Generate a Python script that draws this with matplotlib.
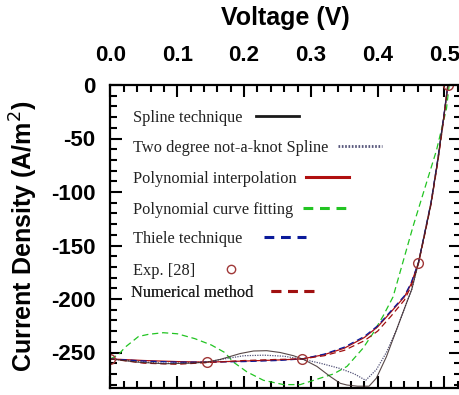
import matplotlib
matplotlib.use("Agg")
import matplotlib.pyplot as plt
from matplotlib.lines import Line2D
from matplotlib.ticker import MultipleLocator

# ---------------- data ----------------
exp_v = [0.0, 0.144, 0.287, 0.461, 0.505]
exp_j = [-256, -259, -256, -166, 0]

spline_v = [0, 0.04, 0.08, 0.12, 0.144, 0.164, 0.194, 0.214, 0.234, 0.254, 0.274, 0.289,
            0.309, 0.329, 0.344, 0.354, 0.37, 0.387, 0.398, 0.413, 0.428, 0.443, 0.451,
            0.461, 0.47, 0.48, 0.49, 0.50, 0.505]
spline_j = [-256, -259, -260.5, -260, -259, -256.5, -251, -248.6, -248.3, -250, -253, -256.5,
            -263, -272.5, -278.8, -280.4, -281.5, -281.5, -274, -254, -229, -204, -191,
            -166, -140, -110, -70, -25, 0]

twodeg_v = [0, 0.04, 0.08, 0.12, 0.144, 0.17, 0.20, 0.23, 0.26, 0.289, 0.314, 0.344, 0.365,
            0.382, 0.398, 0.413, 0.428, 0.443, 0.451, 0.461, 0.47, 0.48, 0.49, 0.50, 0.505]
twodeg_j = [-256, -258.5, -260, -259.5, -259, -256, -253, -252.5, -253.5, -256.5, -260, -265,
            -270, -276, -266, -250, -229, -204, -191, -166, -140, -110, -70, -25, 0]

polyint_v = [0, 0.05, 0.10, 0.144, 0.20, 0.25, 0.287, 0.32, 0.35, 0.38, 0.40, 0.42, 0.44,
             0.45, 0.461, 0.47, 0.48, 0.49, 0.50, 0.505]
polyint_j = [-256, -257.5, -258.5, -259, -258, -257, -256, -252, -246, -236, -226, -212, -198,
             -186, -166, -140, -110, -70, -25, 0]

polyfit_v = [0, 0.012, 0.022, 0.042, 0.057, 0.079, 0.10, 0.126, 0.151, 0.171, 0.184, 0.204,
             0.229, 0.259, 0.284, 0.314, 0.334, 0.354, 0.378, 0.393, 0.408, 0.423, 0.453,
             0.488, 0.503, 0.507]
polyfit_j = [-256, -252, -245, -235, -233, -231.5, -232.5, -237, -243, -250, -259, -268,
             -276, -280, -280, -274, -270, -263, -246, -232, -216, -198, -132,
             -61, -22, 0]

thiele_v = [0, 0.05, 0.10, 0.144, 0.20, 0.25, 0.287, 0.32, 0.35, 0.38, 0.40, 0.42, 0.44,
            0.45, 0.461, 0.47, 0.48, 0.49, 0.50, 0.505]
thiele_j = [-256, -258, -259, -259, -258.5, -257.5, -256, -251.5, -245, -235, -225, -211, -197,
            -185, -166, -139, -109, -69, -24, 0]

numer_v = [0, 0.05, 0.10, 0.144, 0.20, 0.25, 0.287, 0.32, 0.35, 0.38, 0.40, 0.42, 0.44,
           0.45, 0.461, 0.47, 0.48, 0.49, 0.50, 0.505]
numer_j = [-256, -260, -261, -259.5, -257.5, -256.5, -256, -253, -248, -239, -230, -216, -201,
           -188, -167, -141, -111, -72, -27, 0]

labels = ["Spline technique", "Two degree not-a-knot Spline", "Polynomial interpolation",
          "Polynomial curve fitting", "Thiele technique", "Exp. [28]", "Numerical method"]
x_ticks = [0.0, 0.1, 0.2, 0.3, 0.4, 0.5]
y_ticks = [0, -50, -100, -150, -200, -250]

# ---------------- figure ----------------
plt.rcParams['axes.unicode_minus'] = False
W, H = 460, 395
fig = plt.figure(figsize=(W / 100, H / 100), dpi=100)
L, R, T, B = 110.5, 461.0, 85.0, 388.0
ax = fig.add_axes([L / W, 1 - B / H, (R - L) / W, (B - T) / H])

c_spline = "#3a2828"
c_two = "#55557a"
c_pint = "#b01010"
c_pfit = "#22c422"
c_thiele = "#0a1a9a"
c_exp = "#a03838"
c_num = "#a01010"

ax.plot(polyfit_v, polyfit_j, color=c_pfit, lw=0.9, ls=(0, (5, 3)))
ax.plot(twodeg_v, twodeg_j, color=c_two, lw=0.9, ls=(0, (1, 1)))
ax.plot(polyint_v, polyint_j, color=c_pint, lw=0.9)
ax.plot(thiele_v, thiele_j, color=c_thiele, lw=0.9, ls=(0, (5, 3)))
ax.plot(numer_v, numer_j, color=c_num, lw=0.9, ls=(0, (5, 3)))
ax.plot(spline_v, spline_j, color=c_spline, lw=0.8, alpha=0.85)
ax.plot(exp_v, exp_j, ls='none', marker='o', ms=7, mfc='none', mec=c_exp, mew=1.0)

ax.set_xlim(0, (R - L) / 668.0)
ax.set_ylim(-(B - T) / 1.07, 0)

ax.xaxis.tick_top()
ax.xaxis.set_label_position('top')
ax.set_xticks(x_ticks)
ax.set_xticklabels([f"{v:.1f}" for v in x_ticks])
ax.set_yticks(y_ticks)
ax.set_yticklabels([str(v) for v in y_ticks])
ax.xaxis.set_minor_locator(MultipleLocator(0.02))
ax.yaxis.set_minor_locator(MultipleLocator(10))
ax.tick_params(which='both', direction='in', top=True, bottom=True, left=True, right=True,
               labeltop=True, labelbottom=False, labelleft=True, labelright=False, width=1.5,
               color='black')
ax.tick_params(which='major', length=8.5)
ax.tick_params(which='minor', length=5)
ax.tick_params(axis='x', which='major', pad=14)
ax.tick_params(axis='y', which='major', pad=11)
for lab in ax.get_xticklabels() + ax.get_yticklabels():
    lab.set_fontfamily('Liberation Sans')
    lab.set_fontweight('bold')
    lab.set_fontsize(16)
for sp in ax.spines.values():
    sp.set_linewidth(1.6)

ax.set_xlabel("Voltage (V)", fontfamily='Liberation Sans', fontweight='bold', fontsize=18,
              labelpad=14)
ax.set_ylabel("Current Density (A/m$^2$)", fontfamily='Liberation Sans', fontweight='bold',
              fontsize=18, labelpad=8)

# ---------------- legend: one row per entry, handle right after the text ----------------
handles = [
    Line2D([], [], color="#1a1a1a", lw=2.0),
    Line2D([], [], color=c_two, lw=2.0, ls=(0, (0.6, 0.6))),
    Line2D([], [], color=c_pint, lw=2.2),
    Line2D([], [], color=c_pfit, lw=2.2, ls=(0, (3.2, 2.2))),
    Line2D([], [], color=c_thiele, lw=2.2, ls=(0, (3.2, 2.2))),
    Line2D([], [], ls='none', marker='o', ms=6, mfc='none', mec=c_exp, mew=1.0),
    Line2D([], [], color=c_num, lw=2.2, ls=(0, (3.2, 2.2))),
]
row_y = [118, 148, 179, 210, 239, 271, 293]
row_x = [133, 133, 133, 133, 133, 133, 131]
pads = [0.85, 0.6, 0.6, 0.6, 1.3, 1.6, 1.1]
hlen = [2.6, 2.7, 2.6, 2.6, 2.6, 1.2, 2.6]
for h, lab, yy, xx, pd, hl in zip(handles, labels, row_y, row_x, pads, hlen):
    leg = ax.legend([h], [lab], loc='center left',
                    bbox_to_anchor=((xx - L) / (R - L), (B - yy) / (B - T)),
                    frameon=False, markerfirst=False, borderpad=0, borderaxespad=0,
                    handletextpad=pd, handlelength=hl,
                    prop={'family': 'Liberation Serif', 'size': 11.8})
    for t in leg.get_texts():
        t.set_color('#222222')
    ax.add_artist(leg)

fig.savefig("out.png", dpi=100)
